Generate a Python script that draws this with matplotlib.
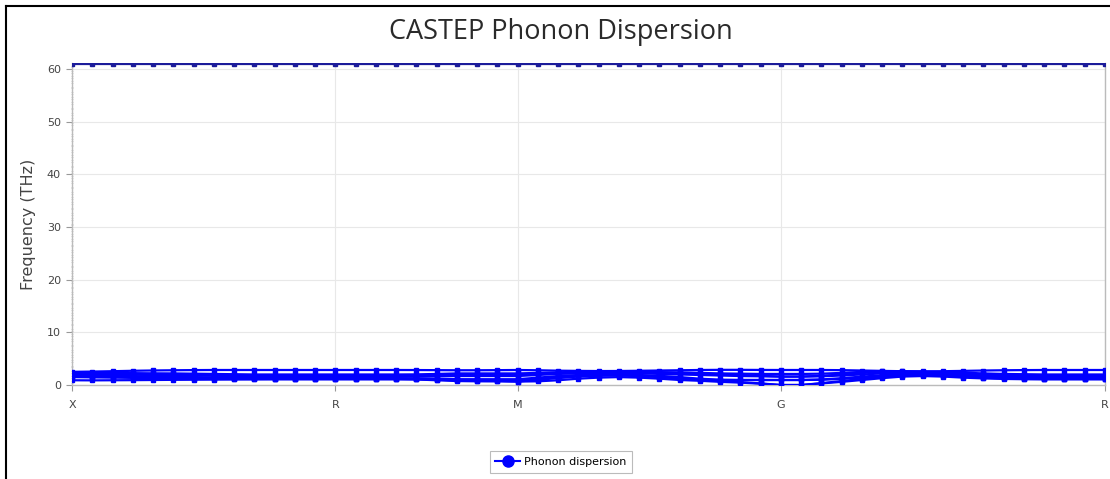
import matplotlib
matplotlib.use("Agg")
import matplotlib.pyplot as plt
from matplotlib.lines import Line2D

# q-point index along path X-R-M-G-R (52 points)
tick_labels = ["X", "R", "M", "G", "R"]
tick_index = [0, 13, 22, 35, 51]

# Frequencies (THz), one list per band, values at each q-point
band_a = [2.50, 2.55, 2.62, 2.70, 2.76, 2.80, 2.83, 2.85, 2.85, 2.85, 2.85, 2.85, 2.85, 2.85,
          2.85, 2.85, 2.85, 2.84, 2.82, 2.80, 2.80, 2.82, 2.85,
          2.80, 2.72, 2.68, 2.65, 2.66, 2.70, 2.75, 2.80, 2.85, 2.88, 2.88, 2.86, 2.85,
          2.85, 2.85, 2.82, 2.75, 2.68, 2.62, 2.60, 2.62, 2.68, 2.75, 2.80, 2.83, 2.85, 2.85, 2.85, 2.85]
band_b = [2.30, 2.30, 2.28, 2.25, 2.22, 2.20, 2.15, 2.10, 2.05, 2.00, 2.00, 2.00, 2.00, 2.00,
          2.00, 2.00, 2.00, 2.02, 2.10, 2.20, 2.20, 2.20, 2.20,
          2.30, 2.40, 2.50, 2.55, 2.55, 2.50, 2.45, 2.40, 2.30, 2.20, 2.15, 2.10, 2.10,
          2.10, 2.15, 2.30, 2.50, 2.60, 2.60, 2.55, 2.45, 2.35, 2.20, 2.10, 2.05, 2.00, 2.00, 2.00, 2.00]
band_g = [2.20, 2.18, 2.15, 2.10, 2.05, 2.00, 1.95, 1.90, 1.85, 1.80, 1.80, 1.80, 1.80, 1.80,
          1.80, 1.80, 1.80, 1.80, 1.85, 1.95, 1.95, 1.95, 1.95,
          2.10, 2.30, 2.40, 2.45, 2.45, 2.40, 2.30, 2.20, 2.10, 2.00, 1.90, 1.75, 1.60,
          1.60, 1.75, 2.00, 2.30, 2.45, 2.50, 2.45, 2.35, 2.20, 2.00, 1.90, 1.85, 1.80, 1.80, 1.80, 1.80]
band_c = [2.10, 2.05, 2.00, 1.95, 1.90, 1.85, 1.80, 1.75, 1.70, 1.65, 1.62, 1.60, 1.60, 1.60,
          1.60, 1.60, 1.60, 1.62, 1.65, 1.70, 1.70, 1.70, 1.70,
          1.90, 2.10, 2.20, 2.30, 2.30, 2.25, 2.10, 2.00, 1.90, 1.80, 1.70, 1.65, 1.60,
          1.60, 1.65, 1.80, 2.00, 2.20, 2.30, 2.30, 2.20, 2.00, 1.85, 1.70, 1.65, 1.60, 1.60, 1.60, 1.60]
band_d = [1.80, 1.75, 1.72, 1.68, 1.62, 1.55, 1.50, 1.45, 1.40, 1.35, 1.32, 1.30, 1.30, 1.30,
          1.30, 1.30, 1.30, 1.28, 1.20, 1.10, 1.10, 1.10, 1.10,
          1.40, 1.70, 1.90, 2.00, 2.00, 1.90, 1.75, 1.50, 1.20, 1.00, 0.95, 0.95, 0.95,
          0.95, 1.05, 1.30, 1.60, 1.85, 2.00, 2.05, 1.95, 1.80, 1.60, 1.45, 1.35, 1.30, 1.30, 1.30, 1.30]
band_h = [1.65, 1.60, 1.55, 1.50, 1.45, 1.40, 1.35, 1.30, 1.27, 1.25, 1.22, 1.20, 1.20, 1.20,
          1.20, 1.20, 1.20, 1.18, 1.10, 1.00, 0.95, 0.92, 0.90,
          1.20, 1.50, 1.75, 1.90, 1.90, 1.80, 1.60, 1.35, 1.05, 0.95, 0.95, 0.95, 0.95,
          0.95, 1.00, 1.15, 1.40, 1.70, 1.90, 1.95, 1.85, 1.70, 1.50, 1.35, 1.25, 1.20, 1.20, 1.20, 1.20]
band_e = [1.50, 1.45, 1.40, 1.35, 1.30, 1.25, 1.20, 1.15, 1.12, 1.10, 1.10, 1.10, 1.10, 1.10,
          1.10, 1.10, 1.10, 1.08, 1.00, 0.90, 0.85, 0.80, 0.65,
          1.00, 1.30, 1.60, 1.75, 1.80, 1.70, 1.50, 1.20, 0.95, 0.75, 0.55, 0.30, 0.00,
          0.00, 0.35, 0.75, 1.15, 1.50, 1.80, 1.90, 1.80, 1.60, 1.40, 1.25, 1.15, 1.10, 1.10, 1.10, 1.10]
band_f = [0.90, 0.88, 0.90, 0.92, 0.95, 0.98, 1.00, 1.02, 1.05, 1.08, 1.10, 1.10, 1.10, 1.10,
          1.10, 1.10, 1.10, 1.05, 0.90, 0.75, 0.70, 0.68, 0.65,
          0.70, 0.90, 1.20, 1.40, 1.50, 1.40, 1.20, 0.95, 0.80, 0.60, 0.45, 0.25, 0.00,
          0.00, 0.30, 0.60, 0.95, 1.30, 1.60, 1.70, 1.60, 1.40, 1.25, 1.15, 1.10, 1.10, 1.10, 1.10, 1.10]
band_top = [61.0] * 52

low_bands = [band_a, band_b, band_g, band_c, band_d, band_h, band_e, band_f]
q_index = list(range(len(band_a)))

W, H = 1110, 479
fig = plt.figure(figsize=(W / 100, H / 100), dpi=100)
fig.patch.set_facecolor("white")
ax = fig.add_axes([72 / W, 1 - 385 / H, (1105 - 72) / W, (385 - 63) / H])

blue = "#0000ff"
for b in low_bands:
    ax.plot(q_index, b, color=blue, lw=1.6, marker="s", ms=2.6, mec=blue, mfc=blue,
            solid_joinstyle="round", zorder=3)
ax.plot(q_index, band_top, color="#1c1c9a", lw=1.6, marker="s", ms=2.6,
        mec="#1c1c9a", mfc="#1c1c9a", zorder=3, clip_on=True)

ax.set_xlim(q_index[0], q_index[-1])
ax.set_ylim(0, 61.15)

ax.set_xticks(tick_index)
ax.set_xticklabels(tick_labels)
ax.set_yticks([0, 10, 20, 30, 40, 50, 60])
ax.set_yticks([v / 3 for v in range(1, 183) if v % 3 != 0], minor=True)
ax.tick_params(axis="y", which="minor", length=2, color="#cccccc", direction="inout")
ax.tick_params(axis="both", which="major", length=4, color="#999999", labelsize=8,
               labelcolor="#444444", pad=4)
ax.tick_params(axis="x", pad=7)

ax.grid(True, which="major", color="#e8e8e8", lw=0.8)
ax.set_axisbelow(True)
for side in ["left", "bottom", "right"]:
    ax.spines[side].set_color("#bbbbbb")
    ax.spines[side].set_linewidth(1.0)
ax.spines["top"].set_visible(False)

ax.set_ylabel("Frequency (THz)", fontsize=11.5, color="#444444", labelpad=8)
fig.text(561 / W, 1 - 32 / H, "CASTEP Phonon Dispersion", ha="center", va="center",
         fontsize=19.5, color="#2a2a2a", family="Open Sans")

handle = Line2D([], [], color=blue, lw=1.5, marker="o", ms=8, mfc=blue, mec=blue)
leg = fig.legend([handle], ["Phonon dispersion"], loc="center",
                 bbox_to_anchor=(561 / W, 1 - 462 / H), fontsize=8, frameon=True,
                 fancybox=False, edgecolor="#aaaaaa", handlelength=2.2, handletextpad=0.4,
                 borderpad=0.5)
leg.get_frame().set_linewidth(0.8)

fig.add_artist(Line2D([6 / W, 6 / W], [0, 1 - 6 / H], color="black", lw=1.5,
                      transform=fig.transFigure))
fig.add_artist(Line2D([6 / W, 1], [1 - 6 / H, 1 - 6 / H], color="black", lw=1.5,
                      transform=fig.transFigure))

fig.savefig("out.png", dpi=100)
